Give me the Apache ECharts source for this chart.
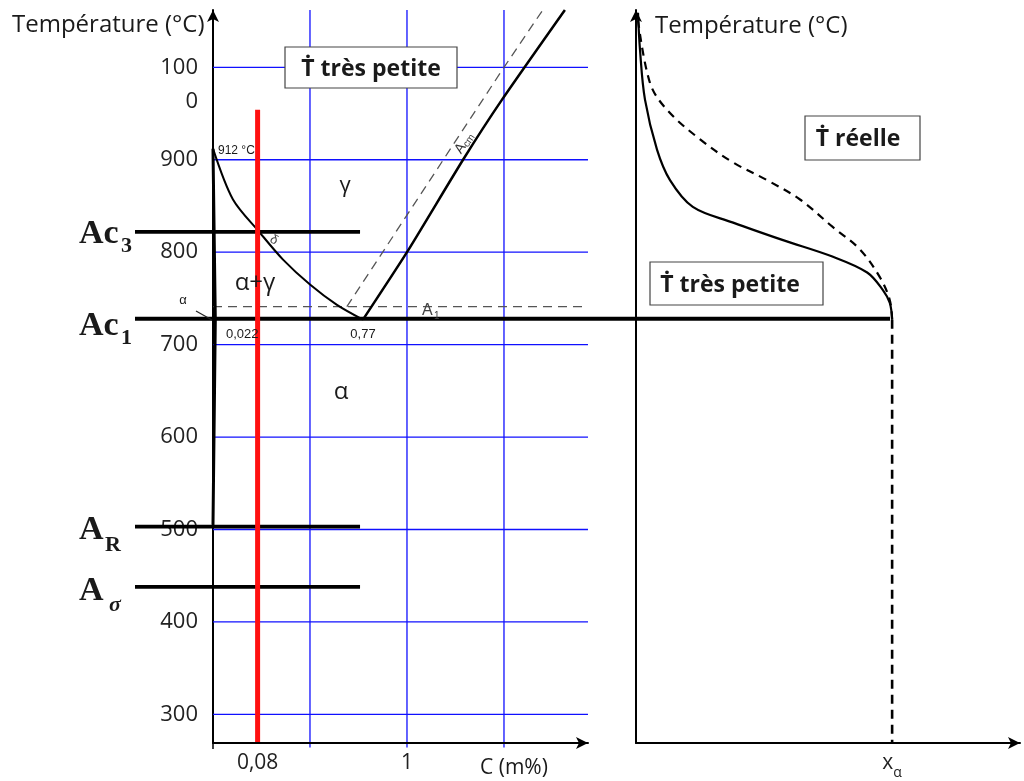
<!DOCTYPE html>
<html><head><meta charset="utf-8">
<script src="https://cdn.jsdelivr.net/npm/echarts@6/dist/echarts.min.js"></script>
<style>html,body{margin:0;padding:0;background:#fff}#c{width:1024px;height:781px}</style>
</head><body><div id="c"></div>
<script>
// ---- data ----
const yTicks = [300, 400, 500, 600, 700, 800, 900, 1000];
const gridXs = [0.5, 1, 1.5];
const xTickValues = [0.23, 1];
const xTickLabels = ['0,08', '1'];
const a3Curve = [[0, 912], [0.103, 857], [0.242, 821], [0.361, 792], [0.5, 765], [0.639, 743], [0.773, 727]];
const acmCurve = [[0.773, 727], [1.0, 800], [1.289, 900], [1.49, 965], [1.814, 1062]];
const acmDashed = [[0.69, 741], [1.5, 1000], [1.70, 1062]];
const alphaCurve = [[0, 912], [0.012, 727], [0, 505]];
const a1Temp = 741;
const acNames = ['Ac3', 'Ac1', 'AR', 'Asigma'];
const acTemps = [822, 728, 503, 438];
const acLeft = -0.402;
const acRight = [0.758, 3.49, 0.758, 0.758];
const redX = 0.23, redTop = 954;
// right panel (cooling curves)
const slowCurve = [[0.52, 1059], [1.04, 1019], [2.34, 965], [5.47, 911], [8.85, 878], [14.8, 849], [25.3, 832], [38.3, 813], [51.3, 795], [60.2, 778], [64.3, 759], [66.1, 745], [66.7, 727]];
const realCurve = [[0.52, 1051], [3.65, 983], [8.07, 954], [16.7, 922], [25.3, 897], [34.1, 878], [42.7, 857], [51.3, 827], [58.3, 803], [63.5, 773], [66.1, 748], [66.7, 727]];
const xAlpha = 66.7;

const yMin = 269, yMax = 1062, xMaxL = 1.933;
// overlay frame (same scale as left diagram, wider extent so lines can leave the plot)
const ovXMin = -0.402, ovXMax = 3.4898, ovYMin = 261.43;
const FONT = '"Open Sans", sans-serif';

const chart = echarts.init(document.getElementById('c'), null, {renderer: 'canvas'});

function lineSeries(data, opt) {
  return Object.assign({
    type: 'line', data: data, showSymbol: false, symbol: 'none', silent: true,
    animation: false, xAxisIndex: 2, yAxisIndex: 2,
    lineStyle: {color: '#000', width: 2}
  }, opt);
}

const series = [];
// blue grid
yTicks.forEach(t => series.push(lineSeries([[0, t], [xMaxL, t]], {lineStyle: {color: '#1010ff', width: 1.3}, z: 1})));
gridXs.forEach(x => series.push(lineSeries([[x, 264], [x, yMax]], {lineStyle: {color: '#1010ff', width: 1.3}, z: 1})));
// dashed A1 and Acm
series.push(lineSeries([[0, a1Temp], [xMaxL, a1Temp]], {lineStyle: {color: '#555', width: 1.3, type: [9, 6]}, z: 2}));
series.push(lineSeries(acmDashed, {lineStyle: {color: '#555', width: 1.3, type: [9, 6]}, z: 2}));
// phase boundaries
series.push(lineSeries(a3Curve, {smooth: 0.3, lineStyle: {color: '#000', width: 2}, z: 3}));
series.push(lineSeries(acmCurve, {smooth: 0.2, lineStyle: {color: '#000', width: 2.5}, z: 3}));
series.push(lineSeries(alphaCurve, {lineStyle: {color: '#000', width: 3}, z: 3}));
// critical temperatures
acTemps.forEach((t, i) => series.push(lineSeries([[acLeft, t], [acRight[i], t]], {name: acNames[i], lineStyle: {color: '#000', width: 3.8}, z: 4})));
// red composition line
series.push(lineSeries([[redX, yMin], [redX, redTop]], {lineStyle: {color: '#ff1010', width: 5}, z: 5}));
// right panel
series.push(lineSeries(slowCurve, {xAxisIndex: 1, yAxisIndex: 1, smooth: 0.35, lineStyle: {color: '#000', width: 2.2}, z: 3}));
series.push(lineSeries(realCurve, {xAxisIndex: 1, yAxisIndex: 1, smooth: 0.35, lineStyle: {color: '#000', width: 2.2, type: [8, 6]}, z: 3}));
series.push(lineSeries([[xAlpha, 727], [xAlpha, yMin]], {xAxisIndex: 1, yAxisIndex: 1, lineStyle: {color: '#000', width: 2.6, type: [9, 6]}, z: 3}));

const axisLineStyle = {color: '#000', width: 2};

const option = {
  animation: false,
  backgroundColor: '#fff',
  grid: [
    {left: 213, top: 10, width: 375, height: 733, containLabel: false},
    {left: 636, top: 10, width: 384, height: 733, containLabel: false},
    {left: 135, top: 10, width: 755, height: 740, containLabel: false}
  ],
  xAxis: [
    {type: 'value', gridIndex: 0, min: 0, max: xMaxL, z: 6,
      axisLine: {show: true, lineStyle: axisLineStyle, symbol: ['none', 'arrow'], symbolSize: [9, 12]},
      axisTick: {show: true, customValues: [0], length: 6, lineStyle: {color: '#000', width: 1.5}},
      splitLine: {show: false},
      axisLabel: {show: true, customValues: xTickValues, margin: 10, fontSize: 21, fontFamily: FONT, color: '#222',
        formatter: v => { const i = xTickValues.findIndex(x => Math.abs(x - v) < 1e-6); return i >= 0 ? xTickLabels[i] : ''; }}
    },
    {type: 'value', gridIndex: 1, min: 0, max: 100,
      axisLine: {show: true, lineStyle: axisLineStyle, symbol: ['none', 'arrow'], symbolSize: [9, 12]},
      axisTick: {show: false}, splitLine: {show: false},
      axisLabel: {show: true, customValues: [xAlpha], margin: 8, formatter: () => '{x|x}{a|α}',
        rich: {x: {fontSize: 21, fontFamily: FONT, color: '#222', height: 24, verticalAlign: 'top'},
               a: {fontSize: 14, fontFamily: FONT, color: '#222', height: 24, verticalAlign: 'bottom', padding: [10, 0, 0, 0]}}}
    },
    {type: 'value', gridIndex: 2, min: ovXMin, max: ovXMax, show: false, splitLine: {show: false}}
  ],
  yAxis: [
    {type: 'value', gridIndex: 0, min: yMin, max: yMax,
      axisLine: {show: true, lineStyle: axisLineStyle, symbol: ['none', 'arrow'], symbolSize: [9, 12]},
      axisTick: {show: false}, splitLine: {show: false},
      axisLabel: {show: true, customValues: yTicks, margin: 15,
        formatter: v => v === 1000 ? '{sp|100}\n{n|100}\n{n|0}' : '{n|' + v + '}',
        rich: {n: {fontSize: 22, fontFamily: FONT, color: '#222', lineHeight: 34},
               sp: {fontSize: 22, fontFamily: FONT, color: 'rgba(0,0,0,0)', lineHeight: 34}}}
    },
    {type: 'value', gridIndex: 1, min: yMin, max: yMax,
      axisLine: {show: true, lineStyle: axisLineStyle, symbol: ['none', 'arrow'], symbolSize: [9, 12]},
      axisTick: {show: false}, splitLine: {show: false}, axisLabel: {show: false}
    },
    {type: 'value', gridIndex: 2, min: ovYMin, max: yMax, show: false, splitLine: {show: false}}
  ],
  series: series
};
chart.setOption(option);

// ---- annotations ----
function txt(text, x, y, font, opt) {
  return {type: 'text', z: 20, silent: true, style: Object.assign({text: text, x: x, y: y, font: font, fill: '#1a1a1a', textAlign: 'left', textVerticalAlign: 'middle'}, (opt && opt.style) || {})};
}
function box(x, y, w, h) {
  return {type: 'rect', z: 19, silent: true, shape: {x: x, y: y, width: w, height: h}, style: {fill: '#fff', stroke: '#444', lineWidth: 1.2}};
}
const SER = 'bold 34px "Liberation Serif", serif';
const SERS = 'bold 22px "Liberation Serif", serif';
const small = '13px "Liberation Sans", Arial, sans-serif';
const graphic = [
  txt('Température (°C)', 12, 25, '24px ' + FONT),
  txt('Température (°C)', 655, 26, '24px ' + FONT),
  box(285, 47, 172, 41), txt('Ṫ très petite', 371, 69, 'bold 23px ' + FONT, {style: {textAlign: 'center'}}),
  box(805, 116, 115, 44), txt('Ṫ réelle', 858, 139, 'bold 23px ' + FONT, {style: {textAlign: 'center'}}),
  box(650, 262, 173, 43), txt('Ṫ très petite', 730, 285, 'bold 23px ' + FONT, {style: {textAlign: 'center'}}),
  txt('912 °C', 218, 151, '12px "Liberation Sans", Arial, sans-serif'),
  txt('γ', 345, 186, '22px ' + FONT, {style: {textAlign: 'center'}}),
  txt('α+γ', 255, 283, '24px ' + FONT, {style: {textAlign: 'center'}}),
  txt('α', 341, 392, '24px ' + FONT, {style: {textAlign: 'center'}}),
  txt('α', 183, 300, small, {style: {textAlign: 'center'}}),
  {type: 'line', z: 20, silent: true, shape: {x1: 196, y1: 311, x2: 212, y2: 320}, style: {stroke: '#222', lineWidth: 1.2}},
  txt('0,022', 226, 334, small),
  txt('0,77', 363, 334, small, {style: {textAlign: 'center'}}),
  txt('A', 422, 311, '16px "Liberation Sans", Arial, sans-serif', {style: {fill: '#444'}}),
  txt('1', 434, 316, '10px "Liberation Sans", Arial, sans-serif', {style: {fill: '#444'}}),
  {type: 'text', z: 20, silent: true, x: 464, y: 143, rotation: 0.98,
    style: {text: '{a|A}{b|cm}', x: 0, y: 0, textAlign: 'center', textVerticalAlign: 'middle',
      rich: {a: {font: '14px "Liberation Sans", Arial, sans-serif', fill: '#333'},
             b: {font: '10px "Liberation Sans", Arial, sans-serif', fill: '#333', padding: [6, 0, 0, 0]}}}},
  {type: 'text', z: 20, silent: true, x: 274, y: 240, rotation: -0.5,
    style: {text: 'δ', x: 0, y: 0, textAlign: 'center', textVerticalAlign: 'middle', font: '13px "Liberation Sans", sans-serif', fill: '#444'}},
  txt('Ac', 79, 234, SER),
  txt('3', 121, 246, SERS),
  txt('Ac', 79, 326, SER),
  txt('1', 121, 338, SERS),
  txt('A', 79, 530, SER),
  txt('R', 105, 545, SERS),
  txt('A', 79, 591, SER),
  txt('σ', 109, 605, 'italic bold 22px "Liberation Serif", serif'),
  txt('C (m%)', 480, 768, '21px ' + FONT)
];
chart.setOption({graphic: graphic});
</script>
</body></html>
